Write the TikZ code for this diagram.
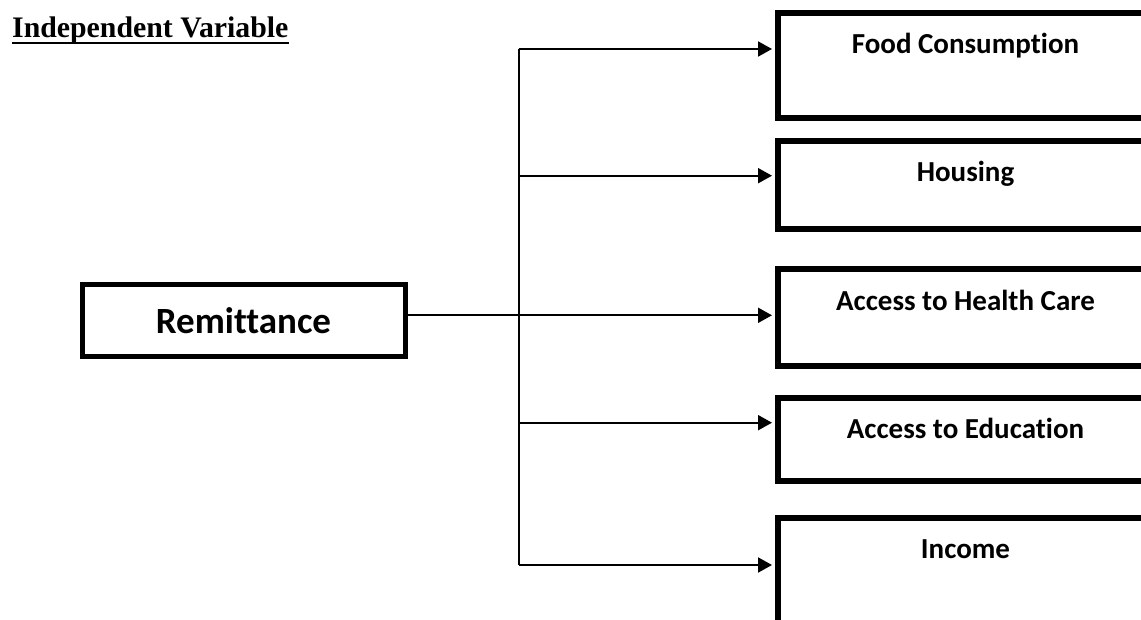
\documentclass[tikz,border=0pt]{standalone}
\usepackage{fontspec}
\setmainfont{Liberation Serif}
\newfontfamily\carl[Ligatures={NoCommon,NoRare}]{Carlito}
\usetikzlibrary{arrows.meta}
\tikzset{
  titlenode/.style={inner sep=0pt, font=\bfseries\fontsize{29.8}{35}\selectfont},
  rembox/.style={draw, line width=5pt, minimum width=323pt, minimum height=71.5pt, inner sep=0pt,
    font=\carl\bfseries\fontsize{37}{42}\selectfont},
  rbox/.style={draw, line width=6pt, minimum width=375pt, inner sep=0pt, text height=41pt,
    text depth=#1, anchor=north west, font=\carl\bfseries\fontsize{29}{34}\selectfont},
  conn/.style={line width=2pt},
  arr/.style={line width=2pt, -{Triangle[length=14pt,width=15pt]}, shorten >=3pt}
}
\begin{document}
\begin{tikzpicture}[x=1pt,y=-1pt]
\useasboundingbox (0,0) rectangle (1141,620);
\clip (0,0) rectangle (1141,620);
\node[titlenode, anchor=base west] (title) at (12,37.5) {Independent Variable};
\draw[line width=2.5pt] ([yshift=-5.5pt]title.base west) -- ([yshift=-5.5pt]title.base east);
\node[rembox] (remit) at (243.5,320.7) {Remittance};
\node[rbox=64pt] (food) at (775,10) {Food Consumption};
\node[rbox=47.5pt] (housing) at (775,138) {Housing};
\node[rbox=56pt] (health) at (775,266.5) {Access to Health Care};
\node[rbox=42.5pt] (edu) at (775,394.5) {Access to Education};
\node[rbox=111pt] (income) at (775,514.5) {Income};
\coordinate (t1) at (518.5,49);
\coordinate (t2) at (518.5,175.7);
\coordinate (t3) at (518.5,315.3);
\coordinate (t4) at (518.5,422.7);
\coordinate (t5) at (518.5,565);
\draw[conn] (t1) -- (t5);
\draw[arr] (t1) -- (t1 -| food.west);
\draw[arr] (t2) -- (t2 -| housing.west);
\draw[arr] (remit.east |- t3) -- (t3 -| health.west);
\draw[arr] (t4) -- (t4 -| edu.west);
\draw[arr] (t5) -- (t5 -| income.west);
\end{tikzpicture}
\end{document}
